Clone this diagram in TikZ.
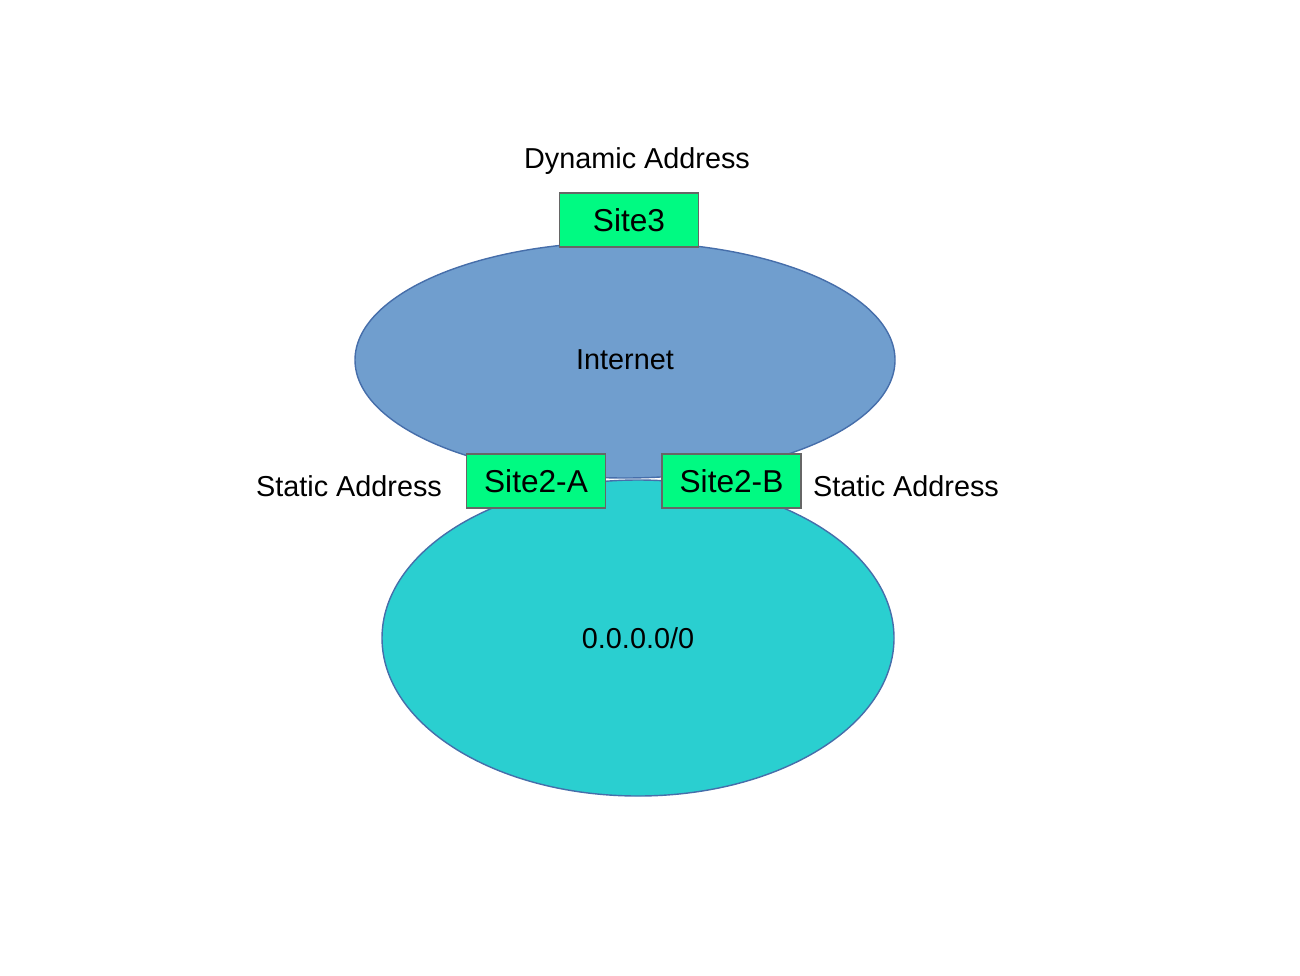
\documentclass[tikz,border=0pt]{standalone}
\usepackage{fontspec}
\setmainfont{Liberation Sans}
\usetikzlibrary{shapes.geometric}
\definecolor{netblue}{RGB}{112,158,206}
\definecolor{netcyan}{RGB}{42,207,208}
\definecolor{sitegreen}{RGB}{0,250,130}
\definecolor{edgeblue}{RGB}{70,110,170}
\begin{document}
\begin{tikzpicture}
[every node/.style={font=\fontsize{8.2}{10}\selectfont},
cloud/.style={ellipse, draw=edgeblue, line width=0.4pt},
site/.style={rectangle, draw=gray!80!black, fill=sitegreen, minimum width=1.39cm, minimum height=0.54cm, inner sep=0pt, font=\fontsize{9}{11}\selectfont}]
\useasboundingbox (0,0) rectangle (13,9.75);
\node [cloud, fill=netcyan, minimum width=5.12cm, minimum height=3.16cm] (zero) at (6.38,3.37) {0.0.0.0/0};
\node [cloud, fill=netblue, minimum width=5.4cm, minimum height=2.36cm] (inet) at (6.25,6.15) {Internet};
\node [site] (site3) at (6.29,7.55) {Site3};
\node [site] (site2a) at (5.36,4.94) {Site2-A};
\node [site] (site2b) at (7.315,4.94) {Site2-B};
\node (dyn) at (6.37,8.14) {Dynamic Address};
\node (statl) at (3.49,4.89) {Static Address};
\node (statr) at (9.06,4.89) {Static Address};
\end{tikzpicture}
\end{document}
